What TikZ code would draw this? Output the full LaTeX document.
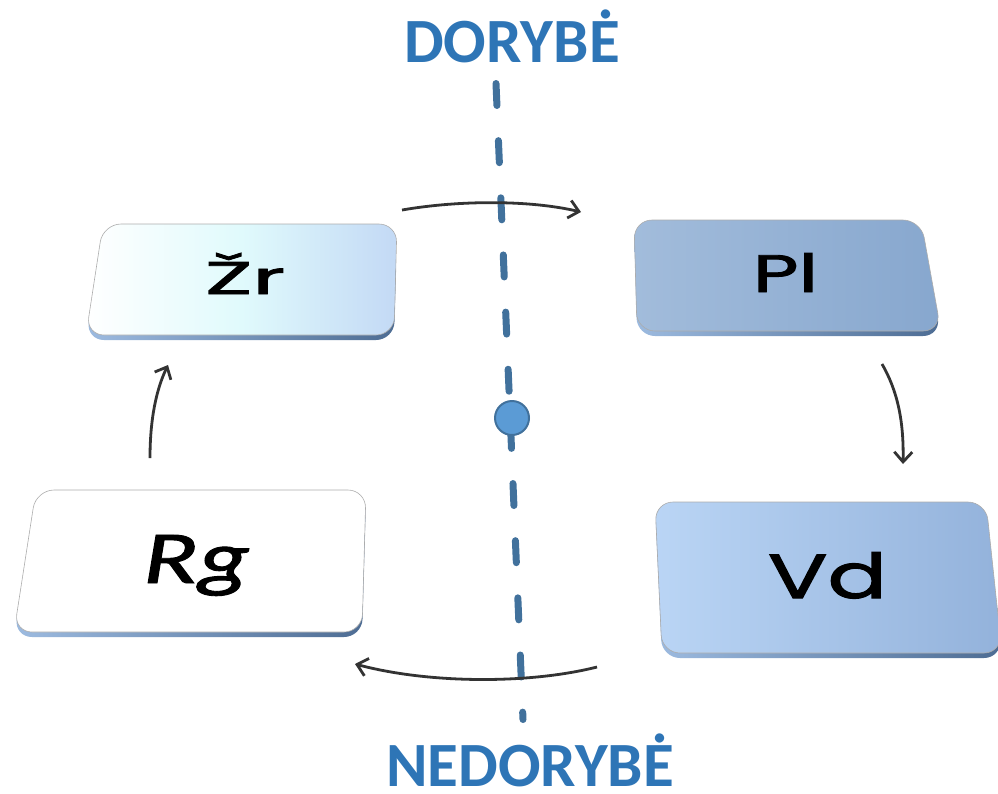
\documentclass[tikz,border=0pt]{standalone}
\usepackage{fontspec}
\usepackage{graphicx}
\usetikzlibrary{arrows.meta}
\newfontfamily\titlefont{Carlito}
\newfontfamily\boxfont{Poppins}[FakeBold=1.6]
\newfontfamily\rgfont{Carlito}[FakeBold=1.2]
\definecolor{titleblue}{HTML}{2E75B6}
\definecolor{dashblue}{HTML}{41719C}
\definecolor{dotblue}{HTML}{5B9BD5}
\definecolor{arrowgray}{HTML}{333333}
\definecolor{zrmid}{HTML}{E0FAFC}
\definecolor{zrright}{HTML}{C3D9F5}
\definecolor{plleft}{HTML}{A2BCDB}
\definecolor{plright}{HTML}{87A7CE}
\definecolor{vdleft}{HTML}{BAD5F5}
\definecolor{vdright}{HTML}{93B2DB}
\definecolor{bandleft}{HTML}{9DBBE0}
\definecolor{bandright}{HTML}{4D6C93}
\begin{document}
\begin{tikzpicture}[x=1pt,y=-1pt,
  face/.style={draw=gray!65, line width=0.6pt, rounded corners=18pt},
  band/.style={rounded corners=18pt, left color=bandleft, right color=bandright},
  boxtext/.style={anchor=base west, inner sep=0pt, outer sep=0pt},
  title/.style={anchor=base, inner sep=0pt, text=titleblue, font=\titlefont\bfseries\fontsize{63}{63}\selectfont},
  dashline/.style={draw=dashblue, line width=7pt, line cap=round, dash pattern=on 22pt off 35.2pt},
  flow/.style={draw=arrowgray, line width=2.8pt, -{Straight Barb[length=10pt,width=18pt]}},
]
\useasboundingbox (0,0) rectangle (998,793);

% titles
\node[title] (dor) at (512,62) {DORYBĖ};
\node[title] (nedor) at (530,786) {NEDORYBĖ};

% dashed axis
\coordinate (axtop) at (496,83.5);
\coordinate (axbot) at (523,719.5);
\draw[dashline] (axtop) -- (axbot);
\node[circle, fill=dotblue, draw=dashblue, line width=2pt, minimum size=34pt, inner sep=0pt] (dot) at (512,418) {};

% box Zr
\path[band] (103,229) -- (397,229) -- (394,340) -- (86,340) -- cycle;
\path[face, left color=white, right color=zrright, middle color=zrmid] (103,224) -- (397,224) -- (394,335) -- (86,335) -- cycle;
\node[boxtext] (zr) at (205,294) {\resizebox{80pt}{41pt}{\boxfont Žr}};

% box Pl
\path[band] (634,225) -- (921,225) -- (941,336) -- (637,336) -- cycle;
\path[face, left color=plleft, right color=plright] (634,220) -- (921,220) -- (941,331) -- (637,331) -- cycle;
\node[boxtext] (pl) at (753,292) {\resizebox{65pt}{39pt}{\boxfont Pl}};

% box Vd
\path[band] (655,507) -- (986,507) -- (1002,658) -- (662,658) -- cycle;
\path[face, left color=vdleft, right color=vdright] (655,502) -- (986,502) -- (1002,653) -- (662,653) -- cycle;
\node[boxtext] (vd) at (768,598) {\resizebox{119pt}{46pt}{\boxfont Vd}};

% box Rg
\path[band] (36,495) -- (366,495) -- (362,637) -- (14,637) -- cycle;
\path[face, fill=white] (36,490) -- (366,490) -- (362,632) -- (14,632) -- cycle;
\node[boxtext] (rg) at (143,583) {\resizebox{107pt}{48pt}{\rgfont\itshape Rg}};

% connectors
\coordinate (zrout) at (402,210);
\coordinate (plin) at (581,212);
\coordinate (plout) at (882,364);
\coordinate (vdin) at (903,464);
\coordinate (vdout) at (597,667);
\coordinate (rgin) at (355,664);
\coordinate (rgout) at (150,458);
\coordinate (zrin) at (168,365);
\draw[flow] (zrout) .. controls (460,200) and (530,200) .. (plin);
\draw[flow] (plout) .. controls (897,390) and (904,420) .. (vdin);
\draw[flow] (vdout) .. controls (530,684) and (430,684) .. (rgin);
\draw[flow] (rgout) .. controls (150,420) and (156,390) .. (zrin);
\end{tikzpicture}
\end{document}
